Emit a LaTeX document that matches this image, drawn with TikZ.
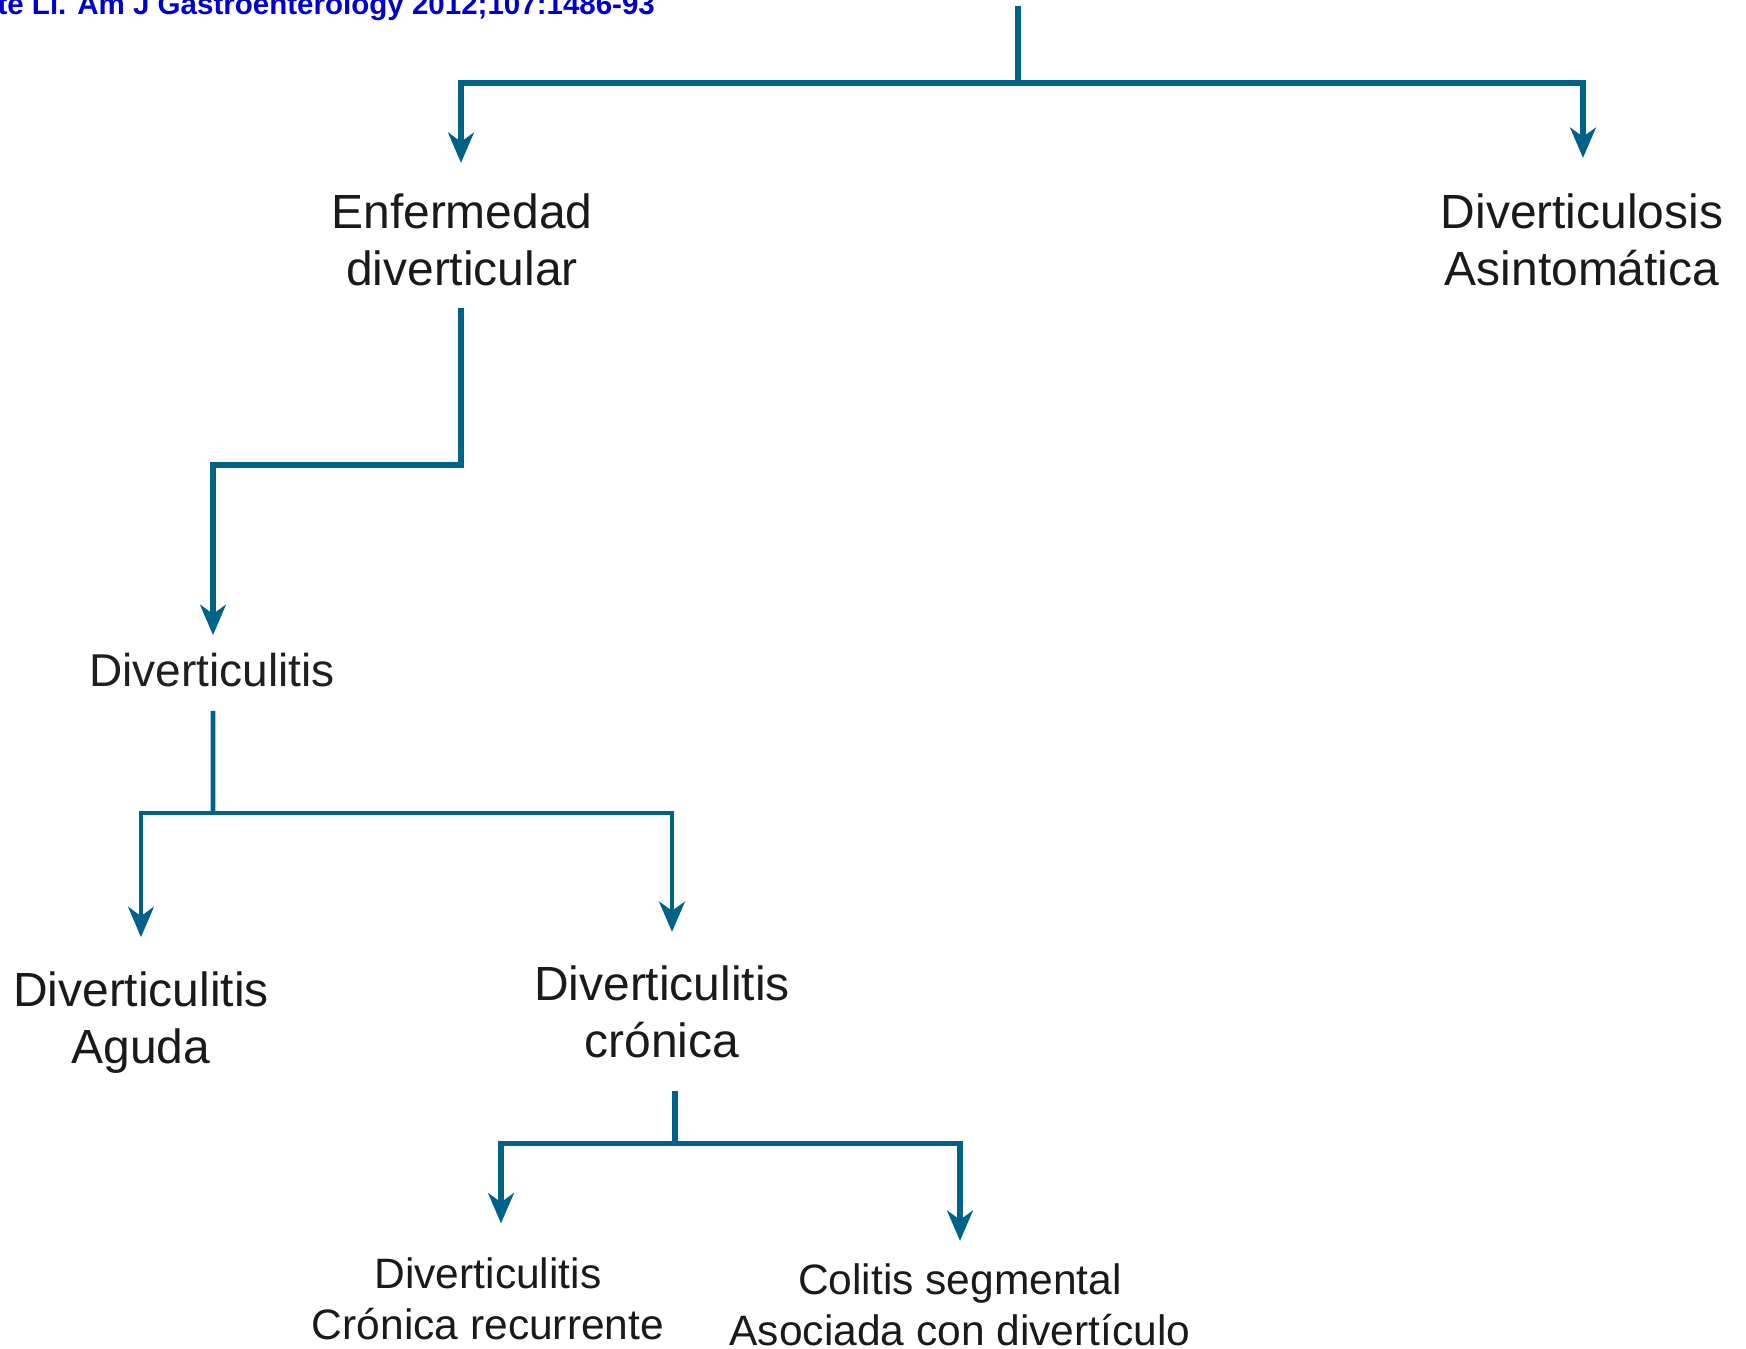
\documentclass[tikz,border=0pt]{standalone}
\usepackage{fontspec}
\setmainfont{Liberation Sans}
\usetikzlibrary{arrows.meta}
\definecolor{ln}{RGB}{0,98,138}
\definecolor{cit}{RGB}{0,0,204}
\definecolor{tx}{RGB}{26,26,26}
\begin{document}
\begin{tikzpicture}[>={Stealth[length=8.6pt,width=7.3pt,inset=2.6pt]},
  every node/.style={inner sep=0,outer sep=0,align=center,text=tx},
  big/.style={font=\fontsize{13.65}{16.2}\selectfont},
  small/.style={font=\fontsize{12.1}{14.5}\selectfont},
  link/.style={draw=ln,line width=1.7pt},thin link/.style={link,line width=1.4pt}]
\clip (0,0) rectangle (17.46,-13.49);
\node[anchor=base east,font=\bfseries\fontsize{8.4}{10}\selectfont,text=cit] (cite) at (6.55,-.145){ate Ll. Am J Gastroenterology 2012;107:1486-93};
% levels
\node[big] (enf) at (4.62,-2.40){Enfermedad\\diverticular};
\node[big] (asin) at (15.82,-2.40){Diverticulosis\\Asintomática};
\node[font=\fontsize{13.1}{15}\selectfont,text=black!88] (ditis) at (2.12,-6.70){Diverticulitis};
\node[big] (aguda) at (1.41,-10.23){Diverticulitis\\Aguda};
\node[big] (cron) at (6.62,-10.12){Diverticulitis\\crónica};
\node[small] (recur) at (4.88,-12.985){Diverticulitis\\Crónica recurrente};
\node[small] (colit) at (9.60,-13.05){Colitis segmental\\Asociada con divertículo};
% branches
\coordinate (top) at (10.18,-.06);\coordinate (j1) at (10.18,-.83);
\coordinate (j2) at (2.13,-4.65);\coordinate (j3) at (2.13,-8.13);\coordinate (j4) at (6.75,-11.435);
\draw[link] (top)--(j1);
\draw[link,->,shorten >=.31cm] (j1) -| ([xshift=-.1mm]enf.north);
\draw[link,->,shorten >=.36cm] (j1) -| ([xshift=.1mm]asin.north);
\draw[link,->,shorten <=.22cm,shorten >=.18cm] ([xshift=-.1mm]enf.south) |- (j2) -- ([xshift=.1mm]ditis.north);
\draw[thin link,shorten <=.24cm] ([xshift=.1mm]ditis.south)--(j3);
\draw[thin link,->,shorten >=.35cm] (j3) -| (aguda.north);
\draw[thin link,->,shorten >=.34cm] (j3) -| ([xshift=1mm]cron.north);
\draw[link,shorten <=.33cm] ([xshift=1.3mm]cron.south)--(j4);
\draw[link,->,shorten >=.34cm] (j4) -| ([xshift=1.3mm]recur.north);
\draw[link,->,shorten >=.23cm] (j4) -| (colit.north);
\end{tikzpicture}
\end{document}
